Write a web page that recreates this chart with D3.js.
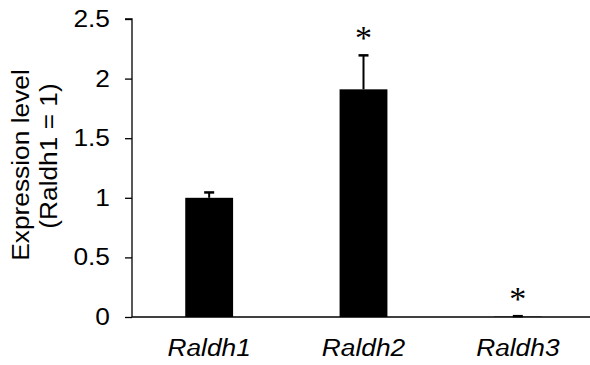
<!DOCTYPE html>
<html lang="en">
<head>
  <meta charset="UTF-8">
  <title>Raldh expression</title>
  <style>
    body { margin: 0; background: #fff; }
    text { font-family: Arial, "Liberation Sans", sans-serif; }
  </style>
</head>
<body>
  <div id="chart"></div>
  <script src="https://d3js.org/d3.v7.min.js"></script>
  <script>
    const genes = ['Raldh1', 'Raldh2', 'Raldh3'];
    const levels = [1.0, 1.91, 0.003];
    const errors = [0.045, 0.285, 0.004];
    const marked = [false, true, true];
    const yTicks = [0, 0.5, 1, 1.5, 2, 2.5];

    const width = 590, height = 365;
    const margin = { top: 19, right: 0, bottom: 48, left: 132 };
    const fontPx = 23.5;
    const stretch = 1.12; // glyphs in the original look a little wider than Arial

    const svg = d3.select('#chart')
      .append('svg')
      .attr('width', width)
      .attr('height', height);

    const x = d3.scaleBand()
      .domain(genes)
      .range([margin.left, 595])
      .paddingInner(0.69)
      .paddingOuter(0.345);

    const y = d3.scaleLinear()
      .domain([0, 2.5])
      .range([height - margin.bottom, margin.top]);

    const data = genes.map((g, i) => ({ gene: g, level: levels[i], err: errors[i], star: marked[i] }));
    const cx = d => x(d.gene) + x.bandwidth() / 2;

    // bars
    svg.selectAll('.bar')
      .data(data)
      .enter()
      .append('rect')
      .attr('class', 'bar')
      .attr('x', d => x(d.gene))
      .attr('y', d => y(d.level))
      .attr('width', x.bandwidth())
      .attr('height', d => y(0) - y(d.level))
      .attr('fill', '#000');

    // error bars
    const eb = svg.selectAll('.err')
      .data(data)
      .enter()
      .append('g')
      .attr('class', 'err');

    eb.append('line')
      .attr('x1', cx)
      .attr('x2', cx)
      .attr('y1', d => y(d.level))
      .attr('y2', d => y(d.level + d.err))
      .attr('stroke', '#000')
      .attr('stroke-width', 2);

    eb.append('line')
      .attr('x1', d => cx(d) - 5)
      .attr('x2', d => cx(d) + 5)
      .attr('y1', d => y(d.level + d.err))
      .attr('y2', d => y(d.level + d.err))
      .attr('stroke', '#000')
      .attr('stroke-width', 2.5);

    // significance stars
    svg.selectAll('.star')
      .data(data.filter(d => d.star))
      .enter()
      .append('text')
      .attr('class', 'star')
      .attr('x', cx)
      .attr('y', d => y(d.level + d.err) - 6)
      .attr('text-anchor', 'middle')
      .style('font-family', '"Liberation Serif", "Times New Roman", serif')
      .style('font-size', '34px')
      .text('*');

    // y axis
    const yAxis = svg.append('g')
      .attr('transform', `translate(${margin.left},0)`)
      .call(d3.axisLeft(y).tickValues(yTicks).tickFormat(d3.format('')).tickSize(7).tickPadding(15));
    yAxis.selectAll('text')
      .style('font-size', fontPx + 'px')
      .attr('fill', '#000')
      .attr('x', 0)
      .attr('transform', `translate(-22,0) scale(${stretch},1)`);
    yAxis.selectAll('line, path').attr('stroke', '#000').attr('stroke-width', 1.3);
    yAxis.select('.domain').attr('d', `M-7,${y(2.5)}H0V${y(0)}`);

    // x axis
    const xAxis = svg.append('g')
      .attr('transform', `translate(0,${y(0)})`)
      .call(d3.axisBottom(x).tickSize(0));
    xAxis.select('.domain').attr('d', `M${margin.left},0H595`).attr('stroke', '#000').attr('stroke-width', 1.3);
    xAxis.selectAll('text')
      .style('font-size', fontPx + 'px')
      .style('font-style', 'italic')
      .attr('fill', '#000')
      .attr('y', 39)
      .attr('dy', 0)
      .attr('transform', `scale(${stretch},1)`);

    // y axis title, two lines
    svg.append('text')
      .attr('transform', `translate(29,165) rotate(-90) scale(${stretch},1)`)
      .attr('text-anchor', 'middle')
      .style('font-size', fontPx + 'px')
      .text('Expression level');
    svg.append('text')
      .attr('transform', `translate(57,156) rotate(-90) scale(${stretch},1)`)
      .attr('text-anchor', 'middle')
      .style('font-size', fontPx + 'px')
      .text('(Raldh1 = 1)');
  </script>
</body>
</html>
